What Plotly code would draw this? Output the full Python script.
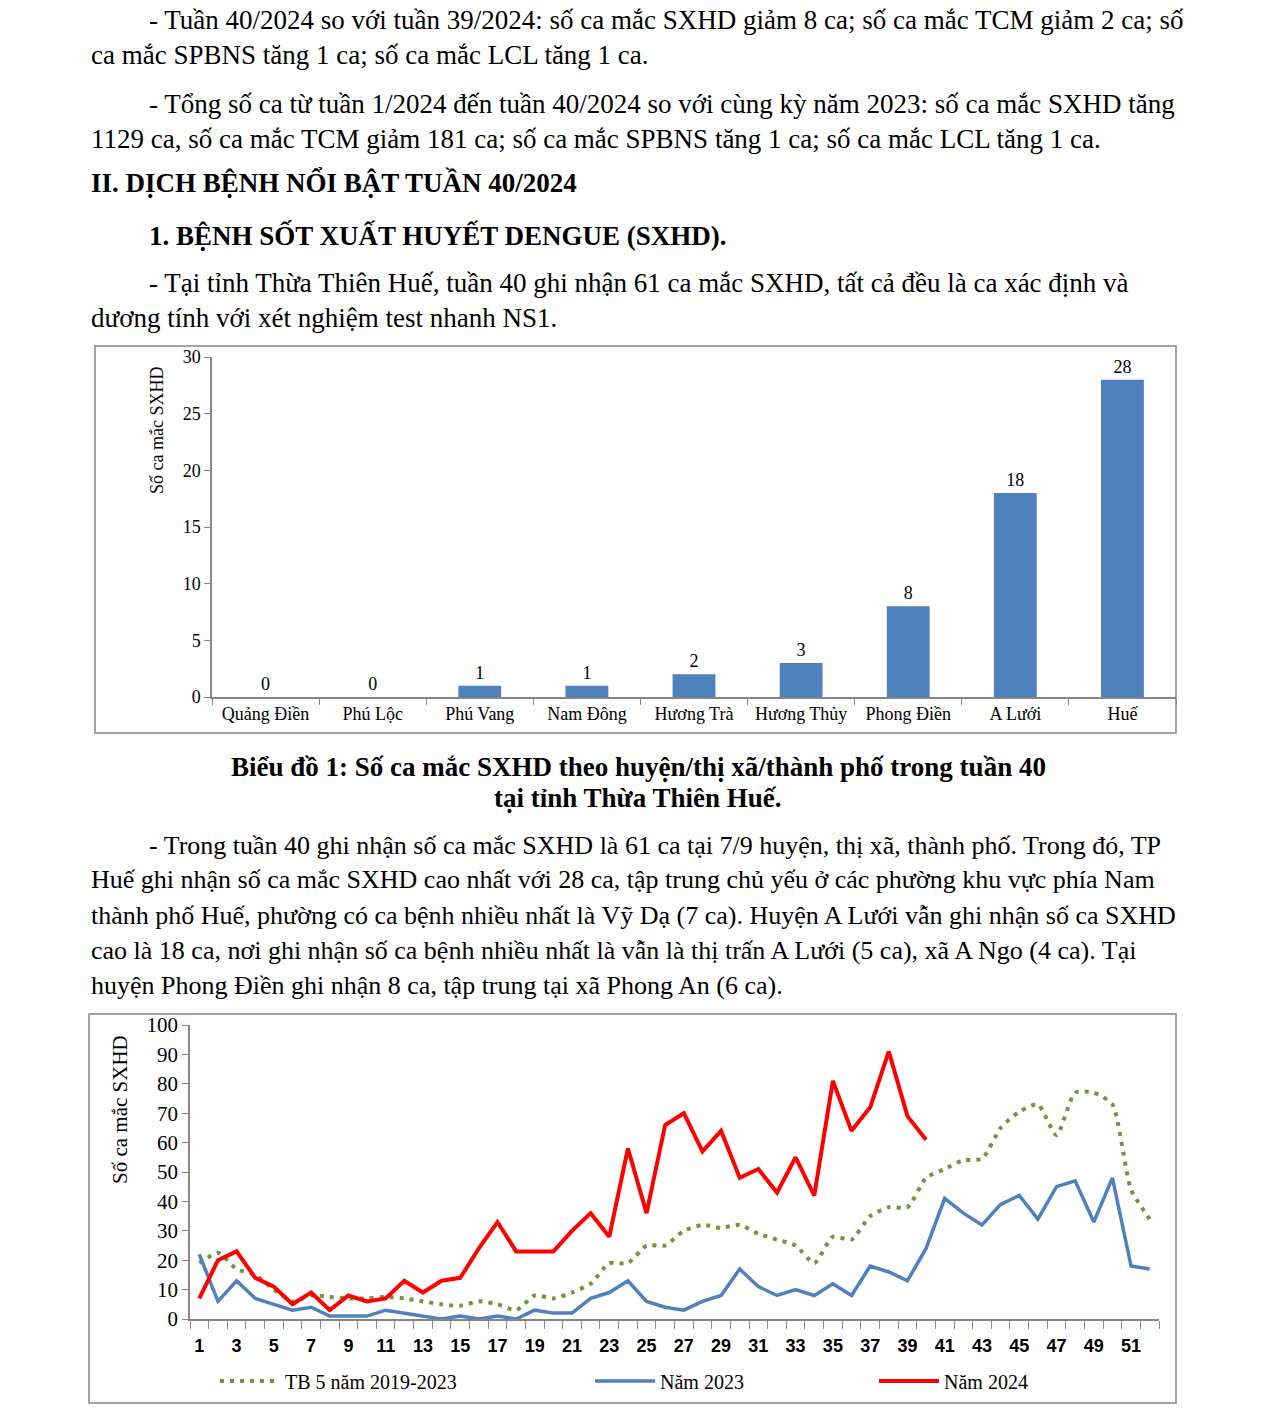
import plotly.graph_objects as go

# ---------------- data ----------------
districts = ["Quảng Điền", "Phú Lộc", "Phú Vang", "Nam Đông", "Hương Trà",
             "Hương Thủy", "Phong Điền", "A Lưới", "Huế"]
district_cases = [0, 0, 1, 1, 2, 3, 8, 18, 28]

weeks = list(range(1, 53))
week_ticks = list(range(1, 52, 2))
tb5_2019_2023 = [19, 22.5, 17, 15, 10, 6, 8, 7.5, 7, 7, 7.5, 7, 6, 5, 4.5, 6, 5, 3, 8, 7,
                 9, 12, 19, 19, 25, 25, 30, 32, 31, 32, 29, 27, 25, 19, 28, 27, 35, 38, 38, 48,
                 51, 54, 54.5, 65, 70.5, 73, 62.5, 77, 77, 73, 44, 34]
y2023 = [22, 6, 13, 7, 5, 3, 4, 1, 1, 1, 3, 2, 1, 0, 1, 0, 1, 0, 3, 2,
         2, 7, 9, 13, 6, 4, 3, 6, 8, 17, 11, 8, 10, 8, 12, 8, 18, 16, 13, 24,
         41, 36, 32, 39, 42, 34, 45, 47, 33, 48, 18, 17]
y2024 = [7, 20, 23, 14, 11, 5, 9, 3, 8, 6, 7, 13, 9, 13, 14, 24, 33, 23, 23, 23,
         30, 36, 28, 58, 36, 66, 70, 57, 64, 48, 51, 43, 55, 42, 81, 64, 72, 91, 69, 61]

W, H = 1275, 1409
SERIF = "Liberation Serif"
GRAY = "#868686"


def px(x):
    return x / W


def py(y):
    return 1 - y / H


fig = go.Figure()

fig.add_trace(go.Bar(
    x=districts, y=district_cases, xaxis="x", yaxis="y",
    marker=dict(color="#4F81BD", line=dict(width=0)), width=0.4,
    text=district_cases, textposition="outside", cliponaxis=False,
    textfont=dict(family=SERIF, size=18, color="black"),
    showlegend=False))

fig.add_trace(go.Scatter(
    x=weeks, y=tb5_2019_2023, xaxis="x2", yaxis="y2", mode="lines",
    name="TB 5 năm 2019-2023", legend="legend",
    line=dict(color="#77933C", width=4, dash="4px,6px", shape="spline", smoothing=0.6)))
fig.add_trace(go.Scatter(
    x=weeks, y=y2023, xaxis="x2", yaxis="y2", mode="lines",
    name="Năm 2023", legend="legend2",
    line=dict(color="#4F81BD", width=3.5)))
fig.add_trace(go.Scatter(
    x=weeks[:len(y2024)], y=y2024, xaxis="x2", yaxis="y2", mode="lines",
    name="Năm 2024", legend="legend3",
    line=dict(color="#FF0000", width=4)))

legend_common = dict(orientation="h", yanchor="middle", xanchor="left",
                     font=dict(family=SERIF, size=20, color="black"),
                     bgcolor="rgba(0,0,0,0)", borderwidth=0, itemwidth=60)

fig.update_layout(
    width=W, height=H,
    margin=dict(l=0, r=0, t=0, b=0, autoexpand=False),
    paper_bgcolor="white", plot_bgcolor="white",
    bargap=0.6,
    xaxis=dict(domain=[px(212), px(1176)], anchor="y", type="category",
               range=[-0.5, 8.5], showline=True, linecolor=GRAY, linewidth=1.5,
               ticks="outside", tickson="boundaries", ticklen=6, tickcolor=GRAY,
               showgrid=False, fixedrange=True,
               tickfont=dict(family=SERIF, size=18, color="black")),
    yaxis=dict(domain=[py(697), py(357)], anchor="x", range=[0, 30], dtick=5,
               showline=True, linecolor=GRAY, linewidth=1.5, ticks="outside",
               ticklen=6, tickcolor=GRAY, showgrid=False, zeroline=False,
               tickfont=dict(family=SERIF, size=18, color="black")),
    xaxis2=dict(domain=[px(190), px(1159)], anchor="y2", range=[0.5, 52.5],
                tickvals=week_ticks, ticks="", showline=True, linecolor=GRAY,
                linewidth=1.5, showgrid=False, zeroline=False,
                ticklabelstandoff=10,
                minor=dict(ticks="outside", tick0=0.5, dtick=1, ticklen=8,
                           tickcolor=GRAY, showgrid=False),
                tickfont=dict(family="Liberation Sans", size=18, color="black",
                              weight="bold")),
    yaxis2=dict(domain=[py(1319), py(1025)], anchor="x2", range=[0, 100], dtick=10,
                showline=True, linecolor=GRAY, linewidth=1.5, ticks="outside",
                ticklen=6, tickcolor=GRAY, showgrid=False, zeroline=False,
                tickfont=dict(family=SERIF, size=21, color="black")),
    legend=dict(x=px(215), y=py(1381), **legend_common),
    legend2=dict(x=px(590), y=py(1381), **legend_common),
    legend3=dict(x=px(874), y=py(1381), **legend_common),
)

# chart frames
fig.add_shape(type="rect", xref="paper", yref="paper",
              x0=px(95), x1=px(1176), y0=py(733), y1=py(346),
              line=dict(color=GRAY, width=1.5), layer="below")
fig.add_shape(type="rect", xref="paper", yref="paper",
              x0=px(89), x1=px(1176), y0=py(1403), y1=py(1014),
              line=dict(color=GRAY, width=1.5), layer="below")

# axis titles
fig.add_annotation(text="Số ca mắc SXHD", xref="paper", yref="paper",
                   x=px(157), y=py(431), textangle=-90, showarrow=False,
                   xanchor="center", yanchor="middle",
                   font=dict(family=SERIF, size=18, color="black"))
fig.add_annotation(text="Số ca mắc SXHD", xref="paper", yref="paper",
                   x=px(120), y=py(1110), textangle=-90, showarrow=False,
                   xanchor="center", yanchor="middle",
                   font=dict(family=SERIF, size=21, color="black"))

# document text: (x, y, text, bold, size)
lines = [
    (147, 20, "- Tuần 40/2024 so với tuần 39/2024: số ca mắc SXHD giảm 8 ca; số ca mắc TCM giảm 2 ca; số", False, 27),
    (89, 55, "ca mắc SPBNS tăng 1 ca; số ca mắc LCL tăng 1 ca.", False, 27),
    (147, 104, "- Tổng số ca từ tuần 1/2024 đến tuần 40/2024 so với cùng kỳ năm 2023: số ca mắc SXHD tăng", False, 27),
    (89, 139, "1129 ca, số ca mắc TCM giảm 181 ca; số ca mắc SPBNS tăng 1 ca; số ca mắc LCL tăng 1 ca.", False, 27),
    (89, 183, "II. DỊCH BỆNH NỔI BẬT TUẦN 40/2024", True, 27),
    (147, 235, "1. BỆNH SỐT XUẤT HUYẾT DENGUE (SXHD).", True, 27),
    (147, 283, "- Tại tỉnh Thừa Thiên Huế, tuần 40 ghi nhận 61 ca mắc SXHD, tất cả đều là ca xác định và", False, 27),
    (89, 318, "dương tính với xét nghiệm test nhanh NS1.", False, 27),
    (147, 845, "- Trong tuần 40 ghi nhận số ca mắc SXHD là 61 ca tại 7/9 huyện, thị xã, thành phố. Trong đó, TP", False, 26),
    (89, 880, "Huế ghi nhận số ca mắc SXHD cao nhất với 28 ca, tập trung chủ yếu ở các phường khu vực phía Nam", False, 26),
    (89, 915, "thành phố Huế, phường có ca bệnh nhiều nhất là Vỹ Dạ (7 ca). Huyện A Lưới vẫn ghi nhận số ca SXHD", False, 26),
    (89, 950, "cao là 18 ca, nơi ghi nhận số ca bệnh nhiều nhất là vẫn là thị trấn A Lưới (5 ca), xã A Ngo (4 ca). Tại", False, 26),
    (89, 985, "huyện Phong Điền ghi nhận 8 ca, tập trung tại xã Phong An (6 ca).", False, 26),
]
for x0, y0, t, bold, size in lines:
    fig.add_annotation(text=f"<b>{t}</b>" if bold else t, xref="paper", yref="paper",
                       x=px(x0), y=py(y0), xanchor="left", yanchor="middle",
                       showarrow=False,
                       font=dict(family=SERIF, size=size, color="black"))

for y0, t in [(767, "Biểu đồ 1: Số ca mắc SXHD theo huyện/thị xã/thành phố trong tuần 40"),
              (798, "tại tỉnh Thừa Thiên Huế.")]:
    fig.add_annotation(text=f"<b>{t}</b>", xref="paper", yref="paper",
                       x=px(638), y=py(y0), xanchor="center", yanchor="middle",
                       showarrow=False,
                       font=dict(family=SERIF, size=27, color="black"))

fig.write_html("out.html", config={"displayModeBar": False},
               post_script="document.body.style.margin='0';document.body.style.overflow='hidden';")
